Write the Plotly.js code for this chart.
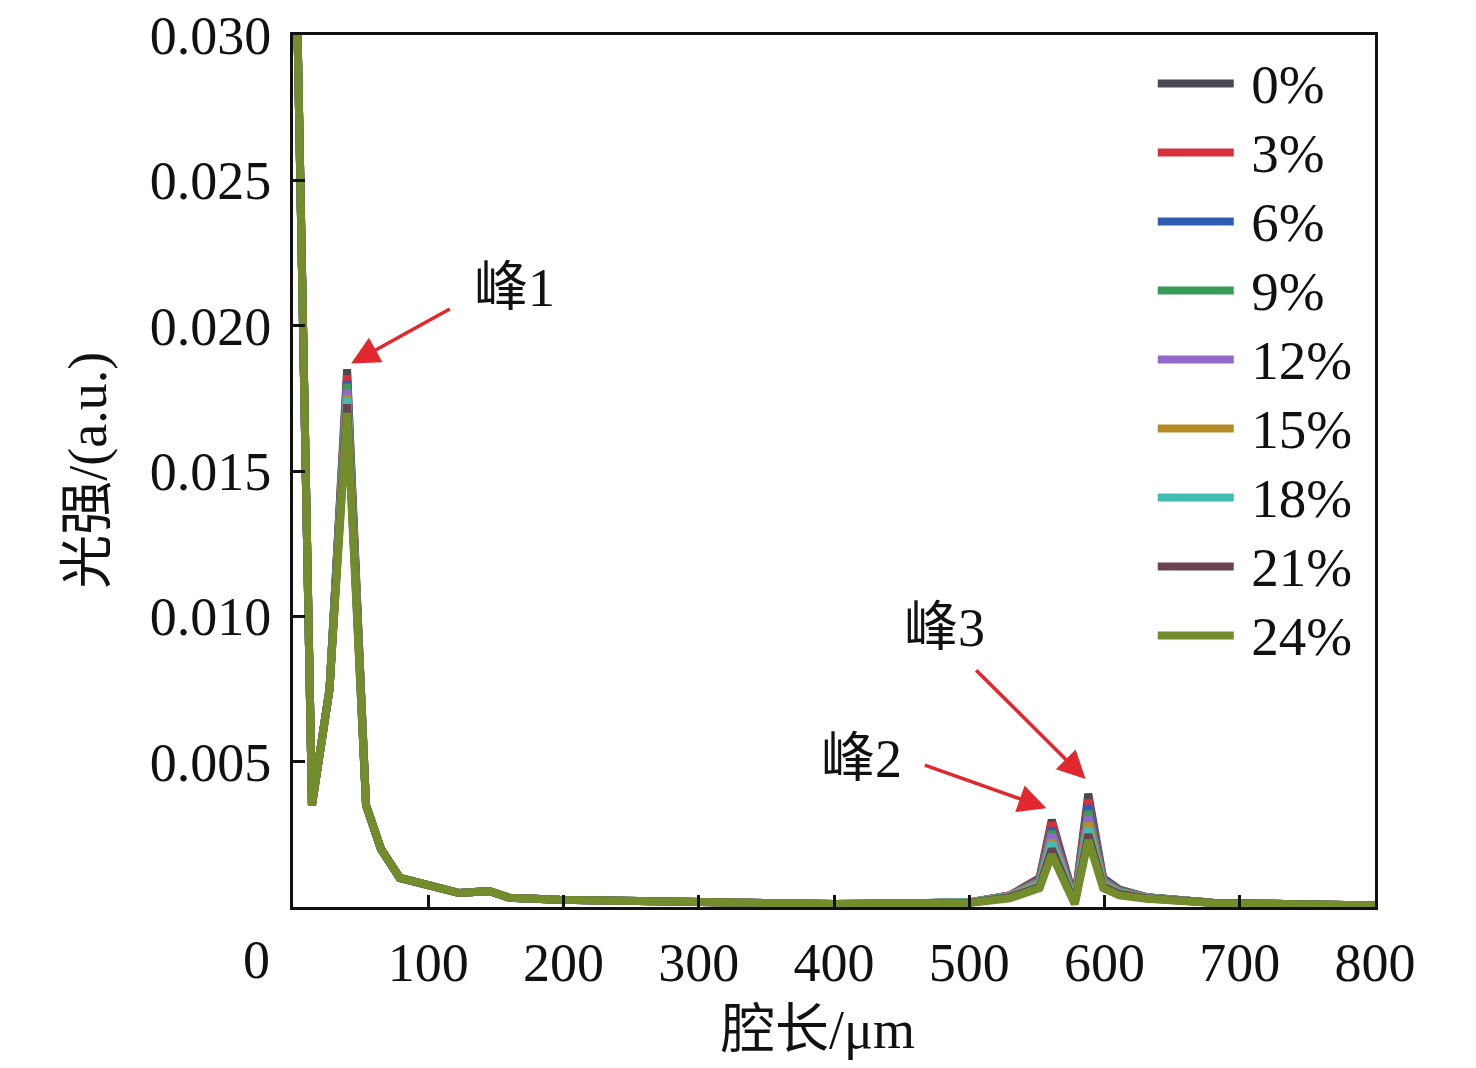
<!DOCTYPE html>
<html>
<head>
<meta charset="utf-8">
<script src="https://cdn.plot.ly/plotly-3.0.1.min.js"></script>
<style>
  html, body { margin: 0; padding: 0; background: #fff; }
  #chart { width: 1476px; height: 1068px; }
</style>
</head>
<body>
<div id="chart"></div>
<script>
// cavity length (um)
var cavityLen = [3, 8, 14, 27, 40, 54, 65, 79, 100, 123, 145, 160, 197, 250, 300, 350, 400, 450, 500, 530, 552, 561, 578, 588, 599, 611, 631, 680, 740, 800];

var labels = ['0%', '3%', '6%', '9%', '12%', '15%', '18%', '21%', '24%'];
var colors = ['#4a4a54', '#d6303d', '#2e5cb0', '#3a9a58', '#9468c6', '#b58d28', '#42bdb1', '#6a4352', '#738c2c'];

var s0  = [0.031, 0.019, 0.0035, 0.0075, 0.0185, 0.0035, 0.0020, 0.0010, 0.00072, 0.00048, 0.00055, 0.00032, 0.00025, 0.0002, 0.00015, 0.00012, 0.0001, 0.00012, 0.00016, 0.0004, 0.0010, 0.0030, 0.0002, 0.0039, 0.0010, 0.0006, 0.00034, 0.00015, 0.0001, 0.00005];
var s3  = [0.031, 0.019, 0.0035, 0.0075, 0.0183, 0.0035, 0.0020, 0.0010, 0.00072, 0.00048, 0.00055, 0.00032, 0.00025, 0.0002, 0.00015, 0.00012, 0.0001, 0.00012, 0.00016, 0.0004, 0.00097, 0.0029, 0.0002, 0.0037, 0.00098, 0.00059, 0.00034, 0.00015, 0.0001, 0.00005];
var s6  = [0.031, 0.019, 0.0035, 0.0075, 0.0181, 0.0035, 0.0020, 0.0010, 0.00072, 0.00048, 0.00055, 0.00032, 0.00025, 0.0002, 0.00015, 0.00012, 0.0001, 0.00012, 0.00016, 0.0004, 0.00093, 0.0027, 0.0002, 0.0035, 0.00094, 0.00057, 0.00034, 0.00015, 0.0001, 0.00005];
var s9  = [0.031, 0.019, 0.0035, 0.0075, 0.0180, 0.0035, 0.0020, 0.0010, 0.00072, 0.00048, 0.00055, 0.00032, 0.00025, 0.0002, 0.00015, 0.00012, 0.0001, 0.00012, 0.00016, 0.0004, 0.0009, 0.0026, 0.0002, 0.0033, 0.0009, 0.00055, 0.00034, 0.00015, 0.0001, 0.00005];
var s12 = [0.031, 0.019, 0.0035, 0.0075, 0.0178, 0.0035, 0.0020, 0.0010, 0.00072, 0.00048, 0.00055, 0.00032, 0.00025, 0.0002, 0.00015, 0.00012, 0.0001, 0.00012, 0.00016, 0.0004, 0.00085, 0.0025, 0.0002, 0.0031, 0.00086, 0.00052, 0.00033, 0.00015, 0.0001, 0.00005];
var s15 = [0.031, 0.019, 0.0035, 0.0075, 0.0176, 0.0035, 0.0020, 0.0010, 0.00072, 0.00048, 0.00055, 0.00032, 0.00025, 0.0002, 0.00015, 0.00012, 0.0001, 0.00012, 0.00016, 0.00038, 0.0008, 0.0023, 0.0002, 0.0029, 0.0008, 0.0005, 0.00032, 0.00015, 0.0001, 0.00005];
var s18 = [0.031, 0.019, 0.0035, 0.0075, 0.0175, 0.0035, 0.0020, 0.0010, 0.00072, 0.00048, 0.00055, 0.00032, 0.00025, 0.0002, 0.00015, 0.00012, 0.0001, 0.00012, 0.00016, 0.00036, 0.00075, 0.0022, 0.00015, 0.0027, 0.00075, 0.00047, 0.00031, 0.00015, 0.0001, 0.00005];
var s21 = [0.031, 0.019, 0.0035, 0.0075, 0.0173, 0.0035, 0.0020, 0.0010, 0.00072, 0.00048, 0.00055, 0.00032, 0.00025, 0.0002, 0.00015, 0.00012, 0.0001, 0.00012, 0.00015, 0.00034, 0.0007, 0.0020, 0.00012, 0.0025, 0.0007, 0.00045, 0.0003, 0.00015, 0.0001, 0.00005];
var s24 = [0.031, 0.019, 0.0035, 0.0075, 0.0170, 0.0035, 0.0020, 0.0010, 0.00072, 0.00048, 0.00055, 0.00032, 0.00025, 0.0002, 0.00015, 0.00012, 0.0001, 0.00012, 0.00014, 0.0003, 0.00065, 0.0018, 0.0001, 0.0023, 0.00065, 0.0004, 0.00028, 0.00014, 0.0001, 0.00005];

var series = [s0, s3, s6, s9, s12, s15, s18, s21, s24];

var xTicks = [100, 200, 300, 400, 500, 600, 700, 800];
var yTicks = [0.005, 0.010, 0.015, 0.020, 0.025, 0.030];
var yTickText = ['0.005', '0.010', '0.015', '0.020', '0.025', '0.030'];

var fontFam = '"Liberation Serif", "Times New Roman", "Noto Sans CJK SC", serif';

var data = series.map(function (s, i) {
    return {
        x: cavityLen,
        y: s,
        // bigger glyphs than the legend font so the rows stay tight
        name: '&nbsp;<span style="font-size:55px">' + labels[i] + '</span>',
        type: 'scatter',
        mode: 'lines',
        line: { color: colors[i], width: 8 },
        legendgroup: 'g' + i
    };
});

var redArrow = { showarrow: true, arrowhead: 2, arrowsize: 1.6, arrowwidth: 3.5, arrowcolor: '#e0282e', text: '', axref: 'x', ayref: 'y' };
function arrow(x, y, ax, ay) {
    return Object.assign({ x: x, y: y, ax: ax, ay: ay, xref: 'x', yref: 'y' }, redArrow);
}
function label(t, x, y) {
    return { text: t, x: x, y: y, xref: 'x', yref: 'y', showarrow: false, font: { family: fontFam, size: 54, color: '#111' } };
}
function paperText(t, x, y, angle) {
    return { text: t, x: x, y: y, xref: 'paper', yref: 'paper', xanchor: 'center', yanchor: 'middle',
             textangle: angle || 0, showarrow: false, font: { family: fontFam, size: 54, color: '#111' } };
}

var layout = {
    width: 1476,
    height: 1068,
    margin: { l: 293, r: 101, t: 35, b: 161 },
    paper_bgcolor: '#fff',
    plot_bgcolor: '#fff',
    font: { family: fontFam, size: 54, color: '#111' },
    showlegend: true,
    legend: {
        x: 0.7946, y: 0.989, xanchor: 'left', yanchor: 'top',
        bgcolor: 'rgba(0,0,0,0)',
        font: { family: fontFam, size: 50, color: '#111' },
        itemwidth: 76,
        tracegroupgap: 1
    },
    xaxis: {
        range: [0, 800],
        tickvals: xTicks,
        ticks: 'inside', ticklen: 12, tickwidth: 3, tickcolor: '#111',
        showline: true, linecolor: '#111', linewidth: 3, mirror: true,
        showgrid: false, zeroline: false,
        ticklabelstandoff: 6,
        tickfont: { family: fontFam, size: 54 }
    },
    yaxis: {
        range: [0, 0.030],
        tickvals: yTicks,
        ticktext: yTickText,
        ticks: 'inside', ticklen: 12, tickwidth: 3, tickcolor: '#111',
        showline: true, linecolor: '#111', linewidth: 3, mirror: true,
        showgrid: false, zeroline: false,
        ticklabelstandoff: 8,
        tickfont: { family: fontFam, size: 54 }
    },
    annotations: [
        arrow(43, 0.0187, 117, 0.0206),
        arrow(557, 0.0034, 466, 0.0049),
        arrow(586, 0.0044, 504, 0.0082),
        label('峰1', 164, 0.0213),
        label('峰2', 420, 0.0051),
        label('峰3', 482, 0.0096),
        paperText('0', -0.0333, -0.0608),
        paperText('腔长/μm', 0.485, -0.141),
        paperText('光强/(a.u.)', -0.189, 0.501, -90)
    ]
};

var config = { displayModeBar: false, displaylogo: false };

Plotly.newPlot('chart', data, layout, config);
</script>
</body>
</html>
